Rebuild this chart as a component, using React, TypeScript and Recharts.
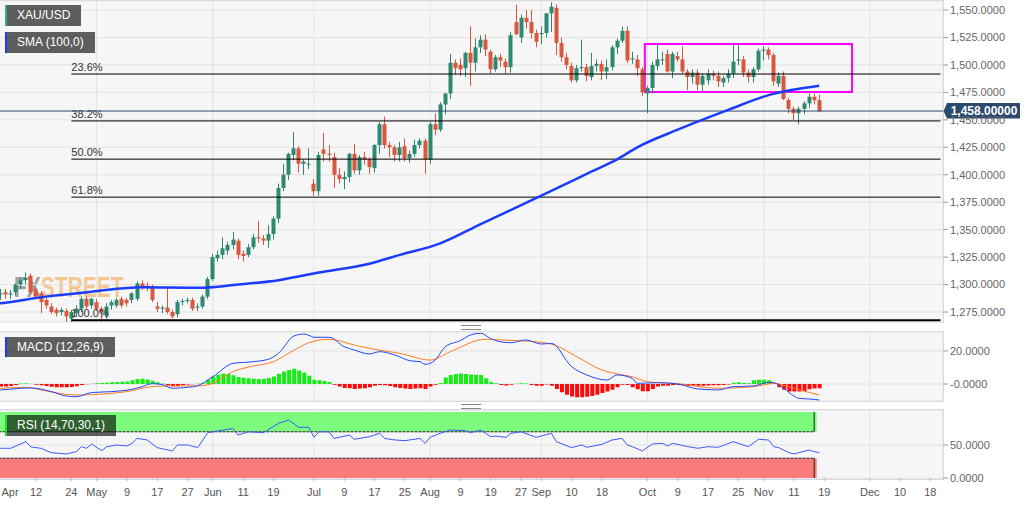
import React from 'react';
import { ComposedChart, Bar, Line, XAxis, YAxis, CartesianGrid, ReferenceLine, ReferenceArea, Cell } from 'recharts';

const FONT = "Arial, 'Liberation Sans', sans-serif";

// Trading days shown on the category axis (weekdays, Good Friday closed)
const MONTH_DAYS: [string, number[]][] = [
  ['Apr', [1, 2, 3, 4, 5, 8, 9, 10, 11, 12, 15, 16, 17, 18, 22, 23, 24, 25, 26, 29, 30]],
  ['May', [1, 2, 3, 6, 7, 8, 9, 10, 13, 14, 15, 16, 17, 20, 21, 22, 23, 24, 27, 28, 29, 30, 31]],
  ['Jun', [3, 4, 5, 6, 7, 10, 11, 12, 13, 14, 17, 18, 19, 20, 21, 24, 25, 26, 27, 28]],
  ['Jul', [1, 2, 3, 4, 5, 8, 9, 10, 11, 12, 15, 16, 17, 18, 19, 22, 23, 24, 25, 26, 29, 30, 31]],
  ['Aug', [1, 2, 5, 6, 7, 8, 9, 12, 13, 14, 15, 16, 19, 20, 21, 22, 23, 26, 27, 28, 29, 30]],
  ['Sep', [2, 3, 4, 5, 6, 9, 10, 11, 12, 13, 16, 17, 18, 19, 20, 23, 24, 25, 26, 27, 30]],
  ['Oct', [1, 2, 3, 4, 7, 8, 9, 10, 11, 14, 15, 16, 17, 18, 21, 22, 23, 24, 25, 28, 29, 30, 31]],
  ['Nov', [1, 4, 5, 6, 7, 8, 11, 12, 13, 14, 15, 18, 19, 20, 21, 22, 25, 26, 27, 28, 29]],
  ['Dec', [2, 3, 4, 5, 6, 9, 10, 11, 12, 13, 16, 17, 18, 19, 20]],
];
const DATES: string[] = MONTH_DAYS.flatMap(([m, ds]) => ds.map((d) => `${m} ${d}`));

const OPEN = [
  1293, 1288, 1291, 1293, 1291, 1293, 1300, 1304, 1308, 1296,
  1292, 1286, 1280, 1277, 1275, 1276, 1269, 1274, 1278, 1287,
  1281, 1284, 1278, 1272, 1281, 1281, 1287, 1286, 1286, 1287,
  1301, 1299, 1298, 1280, 1278, 1279, 1275, 1273, 1284, 1285,
  1286, 1279, 1280, 1289, 1305, 1324, 1327, 1331, 1336, 1340,
  1328, 1327, 1334, 1343, 1342, 1340, 1346, 1360, 1388, 1400,
  1418, 1424, 1410, 1410, 1392, 1385, 1423, 1419, 1416, 1400,
  1396, 1398, 1419, 1404, 1416, 1414, 1406, 1427, 1446, 1427,
  1425, 1418, 1426, 1415, 1419, 1427, 1431, 1414, 1446, 1441,
  1464, 1474, 1502, 1500, 1497, 1511, 1502, 1516, 1523, 1512,
  1496, 1507, 1503, 1498, 1539, 1525, 1543, 1539, 1529, 1528,
  1529, 1547, 1552, 1520, 1507, 1499, 1486, 1497, 1498, 1489,
  1499, 1501, 1494, 1498, 1516, 1522, 1531, 1505, 1505, 1496,
  1474, 1479, 1499, 1505, 1510, 1494, 1508, 1505, 1494, 1489,
  1493, 1482, 1486, 1492, 1490, 1484, 1488, 1492, 1504, 1505,
  1493, 1489, 1496, 1513, 1514, 1509, 1483, 1490, 1468, 1460,
  1456, 1460, 1465, 1471, 1468,
];
const HIGH = [
  1297, 1294, 1296, 1296, 1295, 1301, 1306, 1311, 1310, 1298,
  1294, 1288, 1283, 1279, 1279, 1278, 1277, 1281, 1289, 1289,
  1288, 1287, 1280, 1283, 1286, 1288, 1289, 1288, 1293, 1303,
  1304, 1302, 1300, 1284, 1281, 1297, 1277, 1286, 1287, 1288,
  1288, 1283, 1291, 1307, 1328, 1331, 1343, 1339, 1348, 1342,
  1331, 1337, 1346, 1358, 1345, 1354, 1362, 1392, 1410, 1420,
  1439, 1426, 1414, 1424, 1396, 1421, 1438, 1427, 1420, 1406,
  1403, 1420, 1428, 1418, 1421, 1416, 1428, 1448, 1453, 1430,
  1427, 1430, 1433, 1422, 1432, 1433, 1433, 1448, 1456, 1466,
  1474, 1510, 1505, 1506, 1512, 1535, 1524, 1527, 1528, 1514,
  1509, 1510, 1506, 1530, 1555, 1546, 1550, 1550, 1532, 1535,
  1547, 1557, 1555, 1525, 1511, 1502, 1500, 1523, 1501, 1511,
  1505, 1504, 1505, 1518, 1524, 1535, 1535, 1512, 1509, 1498,
  1481, 1503, 1519, 1512, 1514, 1512, 1512, 1517, 1496, 1496,
  1496, 1492, 1496, 1495, 1494, 1490, 1496, 1519, 1518, 1508,
  1496, 1498, 1515, 1517, 1516, 1511, 1493, 1494, 1470, 1462,
  1462, 1467, 1474, 1474, 1473,
];
const LOW = [
  1286, 1285, 1286, 1287, 1287, 1290, 1296, 1300, 1291, 1287,
  1274, 1278, 1273, 1271, 1272, 1266, 1266, 1271, 1275, 1278,
  1278, 1276, 1266, 1269, 1277, 1279, 1279, 1280, 1283, 1285,
  1295, 1294, 1284, 1275, 1274, 1273, 1269, 1270, 1281, 1283,
  1276, 1276, 1278, 1287, 1303, 1321, 1323, 1327, 1332, 1323,
  1321, 1325, 1332, 1338, 1336, 1333, 1341, 1356, 1385, 1395,
  1413, 1402, 1400, 1405, 1381, 1381, 1412, 1412, 1388, 1392,
  1387, 1393, 1401, 1400, 1409, 1401, 1402, 1419, 1424, 1416,
  1412, 1412, 1412, 1411, 1416, 1424, 1401, 1410, 1436, 1439,
  1455, 1469, 1491, 1490, 1489, 1481, 1494, 1511, 1508, 1492,
  1494, 1498, 1492, 1493, 1527, 1520, 1533, 1524, 1516, 1519,
  1525, 1530, 1509, 1503, 1496, 1484, 1484, 1494, 1485, 1486,
  1494, 1486, 1487, 1495, 1510, 1520, 1502, 1501, 1490, 1472,
  1456, 1474, 1495, 1500, 1493, 1488, 1503, 1492, 1477, 1483,
  1477, 1476, 1482, 1486, 1480, 1480, 1484, 1488, 1500, 1489,
  1484, 1484, 1494, 1504, 1505, 1481, 1480, 1468, 1456, 1450,
  1446, 1455, 1461, 1464, 1457,
];
const CLOSE = [
  1288, 1291, 1292, 1291, 1292, 1300, 1304, 1306, 1293, 1289,
  1284, 1281, 1275, 1274, 1277, 1271, 1275, 1278, 1287, 1280,
  1287, 1278, 1275, 1280, 1284, 1286, 1281, 1283, 1292, 1301,
  1298, 1297, 1286, 1278, 1279, 1275, 1271, 1284, 1285, 1286,
  1278, 1280, 1289, 1305, 1325, 1327, 1333, 1336, 1341, 1327,
  1326, 1334, 1343, 1342, 1340, 1346, 1360, 1388, 1400, 1419,
  1424, 1410, 1412, 1410, 1385, 1418, 1419, 1418, 1400, 1396,
  1398, 1419, 1404, 1416, 1414, 1407, 1427, 1446, 1427, 1425,
  1418, 1425, 1415, 1419, 1427, 1431, 1414, 1446, 1441, 1464,
  1474, 1502, 1497, 1496, 1511, 1502, 1516, 1523, 1514, 1496,
  1507, 1504, 1498, 1527, 1528, 1543, 1539, 1529, 1521, 1529,
  1547, 1553, 1520, 1507, 1500, 1486, 1497, 1498, 1490, 1499,
  1501, 1494, 1498, 1516, 1522, 1531, 1504, 1506, 1497, 1475,
  1479, 1500, 1505, 1505, 1494, 1510, 1505, 1494, 1489, 1493,
  1482, 1490, 1492, 1490, 1485, 1488, 1492, 1503, 1505, 1493,
  1489, 1496, 1513, 1514, 1509, 1485, 1490, 1469, 1460, 1456,
  1460, 1465, 1471, 1468, 1458,
];

// SMA(100): [trading-day index, value]
const SMA_POINTS: [number, number][] = [
  [0, 1282], [2, 1283], [11, 1289], [20, 1293.5], [30, 1297.5], [41, 1297], [49, 1300], [57, 1304],
  [65, 1311], [75, 1319], [81, 1327], [89, 1337.5], [97, 1355], [109, 1381], [119, 1403], [124, 1414],
  [128, 1425], [136, 1441], [146, 1459], [154, 1472.5], [164, 1481],
];

const MACD_POINTS: [number, number][] = [
  [0, -3.8], [2, -3.6], [6, -2.6], [8, -2.4], [12, -4.6], [15, -7.3], [17, -7.7], [20, -5.2], [24, -4.6],
  [28, -3.2], [30, -1.6], [32, 0.2], [34, -0.4], [36, -2.6], [39, -2], [41, -1], [44, 4.4], [48, 12.5],
  [52, 13.5], [55, 15], [57, 18.6], [60, 29], [62, 30.3], [63, 29.5], [64, 28.3], [67, 28.3], [70, 22.6],
  [72, 20.6], [75, 18.2], [77, 19.6], [80, 17.6], [83, 14.1], [85, 13.5], [86, 11.9], [88, 14.5], [90, 22.6],
  [93, 26.3], [95, 29.7], [97, 30.7], [99, 27.5], [101, 25.5], [103, 25], [106, 26.7], [109, 24.2],
  [111, 24.6], [115, 10.5], [118, 5.5], [122, 2.4], [124, 5.5], [127, 3.4], [128, 0.4], [132, 0.8],
  [136, 0], [140, -3], [144, -3.6], [147, -1.6], [151, -1.2], [154, 1], [155, 0.8], [157, -2.6],
  [159, -7.3], [160, -8.7], [163, -9.3], [164, -9.7],
];
const SIGNAL_POINTS: [number, number][] = [
  [0, -2.8], [2, -2.6], [7, -2.0], [10, -3.6], [17, -6.7], [22, -6.1], [27, -4.6], [32, -1.6], [36, -1.2],
  [41, -1.2], [44, 0.4], [48, 7.5], [52, 10.9], [56, 13.5], [59, 18.6], [63, 25], [67, 27.1], [72, 23.6],
  [76, 21], [81, 18.6], [87, 14.5], [91, 19.6], [98, 27.1], [102, 26.5], [106, 26], [111, 24.2],
  [116, 16.6], [121, 8.5], [124, 6.1], [127, 4.4], [130, 1.4], [136, 0.2], [144, -2.6], [151, -1.6],
  [154, 0], [155, 0.4], [159, -2.6], [164, -6.7],
];
const HIST = [
  -1.2, -1.4, -1.5, -1.5, -1.2, -0.6, 0.3, 0.4, 0.2, -0.4,
  -0.8, -1.2, -1.6, -1.9, -2.0, -2.0, -1.8, -1.4, -0.6, -0.2,
  0.2, 0.4, 0.6, 0.7, 1.0, 1.2, 1.3, 1.5, 2.2, 3.0,
  3.2, 2.8, 2.0, 1.0, 0.3, -0.8, -1.3, -1.2, -0.6, -0.3,
  -0.2, 0.2, 0.5, 2.5, 4.5, 5.6, 6.3, 6.0, 5.3, 4.3,
  3.8, 3.5, 3.2, 3.0, 3.2, 3.6, 4.5, 6.2, 7.5, 8.5,
  9.2, 8.2, 7.0, 5.0, 2.5, 2.2, 1.8, 1.2, -0.4, -1.5,
  -2.5, -2.6, -3.0, -2.8, -2.6, -2.0, -1.0, -0.6, -0.8, -1.2,
  -2.0, -2.4, -2.8, -3.0, -2.7, -2.6, -3.0, -1.5, -0.4, 0.6,
  4.0, 5.5, 6.0, 6.3, 6.0, 5.8, 5.6, 5.4, 3.5, 1.2,
  0.4, -0.6, -0.9, -0.5, 0.2, 0.4, 0.3, -0.6, -1.0, -1.0,
  -0.3, -1.0, -3.0, -5.0, -6.5, -7.6, -8.0, -8.0, -7.8, -7.3,
  -6.5, -5.5, -4.5, -3.5, -2.0, -0.5, -0.6, -2.0, -3.2, -4.4,
  -4.4, -3.0, -1.5, -1.0, -1.0, -0.6, -0.6, -0.8, -1.0, -1.0,
  -1.0, -1.0, -0.9, -0.8, -0.8, -0.6, -0.3, 0.8, 1.0, 0.6,
  0.4, 2.2, 2.6, 2.6, 2.2, 0.5, -2.0, -3.5, -4.5, -4.6,
  -4.6, -4.4, -3.2, -2.8, -2.6,
];
const RSI_POINTS: [number, number][] = [
  [0, 45], [2, 45], [4, 45], [7, 55], [8, 47], [10, 45], [12, 38.4], [15, 36.4], [17, 40], [18, 47.5],
  [19, 45], [20, 51.5], [22, 41.4], [23, 47.5], [25, 50], [27, 48.5], [28, 52.5], [29, 60], [31, 57.6],
  [33, 46], [36, 41], [37, 50], [39, 50], [41, 46], [43, 68.7], [48, 75], [49, 65], [51, 70], [54, 68.7],
  [57, 82.8], [59, 87.9], [61, 76.8], [63, 76.8], [64, 61.6], [65, 70], [67, 70], [68, 60], [71, 65],
  [72, 58.6], [75, 62.6], [77, 67.7], [78, 60], [80, 57.6], [82, 56.6], [85, 60], [86, 52.5], [87, 61.6],
  [89, 67.7], [91, 72.7], [94, 71.7], [95, 68.7], [97, 72.7], [99, 62.6], [100, 63.6], [102, 61.6],
  [103, 67.7], [105, 70], [108, 61.6], [111, 67.7], [112, 55], [115, 46], [117, 50], [118, 46.5],
  [121, 51], [123, 57.6], [125, 60], [126, 50], [127, 47.5], [129, 41], [131, 51.5], [133, 52.5],
  [134, 48.5], [135, 52.5], [138, 47.5], [140, 45], [142, 47.5], [144, 46.5], [147, 55], [150, 47.5],
  [152, 58.6], [154, 57.6], [155, 47.5], [156, 46], [158, 38.4], [159, 36.4], [160, 38.4], [162, 42.4],
  [163, 40], [164, 38.4],
];

const X_TICKS: [string, string][] = [
  ['Apr 1', 'Apr'], ['Apr 12', '12'], ['Apr 24', '24'], ['May 1', 'May'], ['May 9', '9'], ['May 17', '17'],
  ['May 27', '27'], ['Jun 3', 'Jun'], ['Jun 11', '11'], ['Jun 19', '19'], ['Jul 1', 'Jul'], ['Jul 9', '9'],
  ['Jul 17', '17'], ['Jul 25', '25'], ['Aug 1', 'Aug'], ['Aug 9', '9'], ['Aug 19', '19'], ['Aug 27', '27'],
  ['Sep 2', 'Sep'], ['Sep 10', '10'], ['Sep 18', '18'], ['Oct 1', 'Oct'], ['Oct 9', '9'], ['Oct 17', '17'],
  ['Oct 25', '25'], ['Nov 1', 'Nov'], ['Nov 11', '11'], ['Nov 19', '19'], ['Dec 2', 'Dec'], ['Dec 10', '10'],
  ['Dec 18', '18'],
];
const MONTH_STARTS = ['May 1', 'Jun 3', 'Jul 1', 'Aug 1', 'Sep 2', 'Oct 1', 'Nov 1', 'Dec 2'];
const PRICE_TICKS = [1275, 1300, 1325, 1350, 1375, 1400, 1425, 1450, 1475, 1500, 1525, 1550];
const MACD_TICKS = [20, 0];
const RSI_TICKS = [50, 0];
const FIB_LEVELS: [string, number][] = [
  ['23.6%', 1491.7], ['38.2%', 1449], ['50.0%', 1414.2], ['61.8%', 1379.6], ['100.0%', 1267.6],
];
const FIB_FROM = 'Apr 24';
const CURRENT_PRICE = 1458;
const RANGE_BOX = { from: 'Oct 1', to: 'Nov 26', low: 1475.3, high: 1519 };
const RSI_BAND_END = 'Nov 15';

const GREEN = '#2f8870';
const RED = '#d9573f';

const smaMap = new Map(SMA_POINTS);
const macdMap = new Map(MACD_POINTS);
const sigMap = new Map(SIGNAL_POINTS);
const rsiMap = new Map(RSI_POINTS);
const tickLabel = new Map(X_TICKS);

const rows = DATES.map((key, i) => ({
  key,
  open: OPEN[i] ?? null,
  high: HIGH[i] ?? null,
  low: LOW[i] ?? null,
  close: CLOSE[i] ?? null,
  sma: smaMap.get(i) ?? null,
  macd: macdMap.get(i) ?? null,
  signal: sigMap.get(i) ?? null,
  hist: HIST[i] ?? null,
  rsi: rsiMap.get(i) ?? null,
}));

const fmtPrice = (v: number) =>
  v.toLocaleString('en-US', { minimumFractionDigits: 4, maximumFractionDigits: 4 });
const fmtMacd = (v: number) => (v === 0 ? '-0.0000' : v.toFixed(4));
const fmtRsi = (v: number) => v.toFixed(4);

const candleRange = (d: any) => (d.open == null ? null : [d.low, d.high]);

const Candle = (props: any) => {
  const { x, y, width, height, payload } = props;
  if (!payload || payload.open == null) return null;
  const { open, close, high, low } = payload;
  const color = close >= open ? GREEN : RED;
  const top = Math.min(y, y + height);
  const h = Math.abs(height);
  const ratio = high > low ? h / (high - low) : 0;
  const bTop = top + (high - Math.max(open, close)) * ratio;
  const bBot = top + (high - Math.min(open, close)) * ratio;
  const cx = Math.round(x + width / 2) - 0.5;
  return (
    <g>
      <line x1={cx} x2={cx} y1={top} y2={top + h} stroke={color} strokeWidth={1} />
      <rect x={cx - 2} y={bTop} width={4} height={Math.max(1, bBot - bTop)} fill={color} />
    </g>
  );
};

const fibLabel = (text: string) => (props: any) => {
  const vb = props.viewBox || {};
  return (
    <text x={vb.x ?? 0} y={(vb.y ?? 0) - 3} fontSize={11} fill="#333" fontFamily={FONT}>
      {text}
    </text>
  );
};

const PriceTag = (props: any) => {
  const vb = props.viewBox || {};
  const xr = (vb.x ?? 0) + (vb.width ?? 0);
  const y = (vb.y ?? 0) + (vb.height ?? 0) / 2;
  return (
    <g>
      <path
        d={`M${xr + 0.5},${y} L${xr + 4},${y - 8} L${xr + 77},${y - 8} L${xr + 77},${y + 7.5} L${xr + 4},${y + 7.5} Z`}
        fill="#2b4a6e"
      />
      <text x={xr + 41} y={y} dy="0.36em" textAnchor="middle" fill="#fff" fontSize={12} fontWeight={700} fontFamily={FONT}>
        {CURRENT_PRICE.toLocaleString('en-US', { minimumFractionDigits: 5 })}
      </text>
    </g>
  );
};

const DateTick = (props: any) => {
  const { x, y, payload } = props;
  const label = tickLabel.get(payload.value) ?? '';
  const cx = Math.max(x, 22);
  return (
    <text x={cx} y={y} dy="0.71em" textAnchor="middle" fontSize={11} fill="#555" fontFamily={FONT}>
      {label}
    </text>
  );
};

const yTick = { fontSize: 11, fill: '#666', fontFamily: FONT };
const CHART_W = 1044;
const AXIS_W = 89;

const legendBox = (top: number, border: string, height = 21): React.CSSProperties => ({
  position: 'absolute',
  left: 5,
  top,
  height,
  lineHeight: `${height}px`,
  padding: '0 11px 0 10px',
  background: 'rgba(0,0,0,0.62)',
  borderLeft: `2px solid ${border}`,
  color: '#fff',
  fontSize: 12,
  fontFamily: FONT,
  whiteSpace: 'nowrap',
});

const panelBg = (top: number, height: number, bottom: boolean): React.CSSProperties => ({
  position: 'absolute',
  left: 0,
  top,
  width: 944,
  height,
  boxSizing: 'border-box',
  background: '#f6f6f6',
  borderTop: '1px solid #cfd6e3',
  borderRight: '1px solid #cfd6e3',
  borderBottom: bottom ? '1px solid #cfd6e3' : 'none',
});

const Handle = ({ top }: { top: number }) => (
  <div style={{ position: 'absolute', left: 461, top, width: 20, height: 3, borderTop: '1px solid #888', borderBottom: '1px solid #888' }} />
);

export default function App() {
  return (
    <div style={{ position: 'absolute', left: 0, top: 0, width: 1032, height: 505, overflow: 'hidden', background: '#fff', fontFamily: FONT }}>
      <div style={panelBg(0, 323, false)} />
      <div style={panelBg(331, 71, true)} />
      <div style={panelBg(409, 71, true)} />

      <div style={{ position: 'absolute', left: 14, top: 272, fontSize: 30, lineHeight: '30px', fontWeight: 700, transform: 'scaleX(0.7)', transformOrigin: 'left top', whiteSpace: 'nowrap' }}>
        <span style={{ color: 'rgba(110,110,110,0.65)' }}>FX</span>
        <span style={{ color: 'rgba(240,168,80,0.6)' }}>STREET</span>
      </div>

      {/* Price panel */}
      <div style={{ position: 'absolute', left: -12, top: 0 }}>
        <ComposedChart width={CHART_W} height={323} data={rows} margin={{ top: 1, right: 0, bottom: 1, left: 0 }}>
          <CartesianGrid stroke="#e3e3e3" />
          <XAxis dataKey="key" scale="band" hide ticks={MONTH_STARTS} interval={0} />
          <YAxis
            orientation="right"
            width={AXIS_W}
            domain={[1265.9, 1558.2]}
            allowDataOverflow
            ticks={PRICE_TICKS}
            interval={0}
            tick={yTick}
            tickLine={{ stroke: '#999' }}
            tickSize={5}
            axisLine={false}
            tickFormatter={fmtPrice}
          />
          {FIB_LEVELS.map(([label, v]) => (
            <ReferenceLine
              key={label}
              segment={[{ x: FIB_FROM, y: v }, { x: DATES[DATES.length - 1], y: v }]}
              stroke="#000"
              strokeWidth={label === '100.0%' ? 2 : 1}
              label={fibLabel(label)}
            />
          ))}
          <ReferenceLine y={CURRENT_PRICE} stroke="#2b4a6e" strokeWidth={1} label={(p: any) => <PriceTag {...p} />} />
          <Bar dataKey={candleRange} barSize={4} shape={(p: any) => <Candle {...p} />} isAnimationActive={false} />
          <Line dataKey="sma" type="monotone" stroke="#1a3cff" strokeWidth={2.5} dot={false} connectNulls isAnimationActive={false} />
          <ReferenceArea
            x1={RANGE_BOX.from}
            x2={RANGE_BOX.to}
            y1={RANGE_BOX.low}
            y2={RANGE_BOX.high}
            fill="none"
            fillOpacity={0}
            stroke="#ff00ff"
            strokeWidth={2}
          />
        </ComposedChart>
      </div>

      {/* MACD panel */}
      <div style={{ position: 'absolute', left: -12, top: 331 }}>
        <ComposedChart width={CHART_W} height={71} data={rows} margin={{ top: 1, right: 0, bottom: 1, left: 0 }}>
          <CartesianGrid stroke="#e3e3e3" />
          <XAxis dataKey="key" scale="band" hide ticks={MONTH_STARTS} interval={0} />
          <YAxis
            orientation="right"
            width={AXIS_W}
            domain={[-10.3, 31.5]}
            allowDataOverflow
            ticks={MACD_TICKS}
            interval={0}
            tick={yTick}
            tickLine={{ stroke: '#999' }}
            tickSize={5}
            axisLine={false}
            tickFormatter={fmtMacd}
          />
          <Bar dataKey="hist" barSize={4} isAnimationActive={false}>
            {rows.map((r, i) => (
              <Cell key={i} fill={(r.hist ?? 0) >= 0 ? '#14ee14' : '#ff0a0a'} />
            ))}
          </Bar>
          <Line dataKey="signal" type="monotone" stroke="#ff7a21" strokeWidth={1} dot={false} connectNulls isAnimationActive={false} />
          <Line dataKey="macd" type="monotone" stroke="#2447ff" strokeWidth={1} dot={false} connectNulls isAnimationActive={false} />
        </ComposedChart>
      </div>

      {/* RSI panel */}
      <div style={{ position: 'absolute', left: -12, top: 409 }}>
        <ComposedChart width={CHART_W} height={96} data={rows} margin={{ top: 1, right: 0, bottom: 0, left: 0 }}>
          <CartesianGrid stroke="#e3e3e3" xAxisId="grid" />
          <XAxis xAxisId="grid" dataKey="key" scale="band" hide ticks={MONTH_STARTS} interval={0} />
          <XAxis
            dataKey="key"
            scale="band"
            ticks={X_TICKS.map((t) => t[0])}
            interval={0}
            height={27}
            tick={(p: any) => <DateTick {...p} />}
            tickLine={{ stroke: '#bbb' }}
            tickSize={3}
            tickMargin={7}
            axisLine={false}
          />
          <YAxis
            orientation="right"
            width={AXIS_W}
            domain={[0, 103]}
            allowDataOverflow
            ticks={RSI_TICKS}
            interval={0}
            tick={yTick}
            tickLine={{ stroke: '#999' }}
            tickSize={5}
            axisLine={false}
            tickFormatter={fmtRsi}
          />
          <ReferenceArea x1={DATES[0]} x2={RSI_BAND_END} y1={70} y2={100} fill="#7dfb7d" fillOpacity={1} stroke="none" />
          <ReferenceArea x1={DATES[0]} x2={RSI_BAND_END} y1={0} y2={30} fill="#f97b7b" fillOpacity={1} stroke="none" />
          <ReferenceLine segment={[{ x: DATES[0], y: 70 }, { x: RSI_BAND_END, y: 70 }]} stroke="#222" strokeDasharray="3 1" />
          <ReferenceLine segment={[{ x: DATES[0], y: 30 }, { x: RSI_BAND_END, y: 30 }]} stroke="#222" strokeDasharray="3 1" />
          <ReferenceLine segment={[{ x: RSI_BAND_END, y: 70 }, { x: RSI_BAND_END, y: 100 }]} stroke="#222" />
          <ReferenceLine segment={[{ x: RSI_BAND_END, y: 0 }, { x: RSI_BAND_END, y: 30 }]} stroke="#222" />
          <Line dataKey="rsi" type="linear" stroke="#3d5afe" strokeWidth={1} dot={false} connectNulls isAnimationActive={false} />
        </ComposedChart>
      </div>

      <div style={legendBox(5, '#3aa882')}>XAU/USD</div>
      <div style={legendBox(32, '#1b3cff')}>SMA (100,0)</div>
      <div style={legendBox(337, '#1b3cff', 20)}>MACD (12,26,9)</div>
      <div style={legendBox(415, '#22dd22')}>RSI (14,70,30,1)</div>
      <Handle top={325} />
      <Handle top={404} />
    </div>
  );
}
